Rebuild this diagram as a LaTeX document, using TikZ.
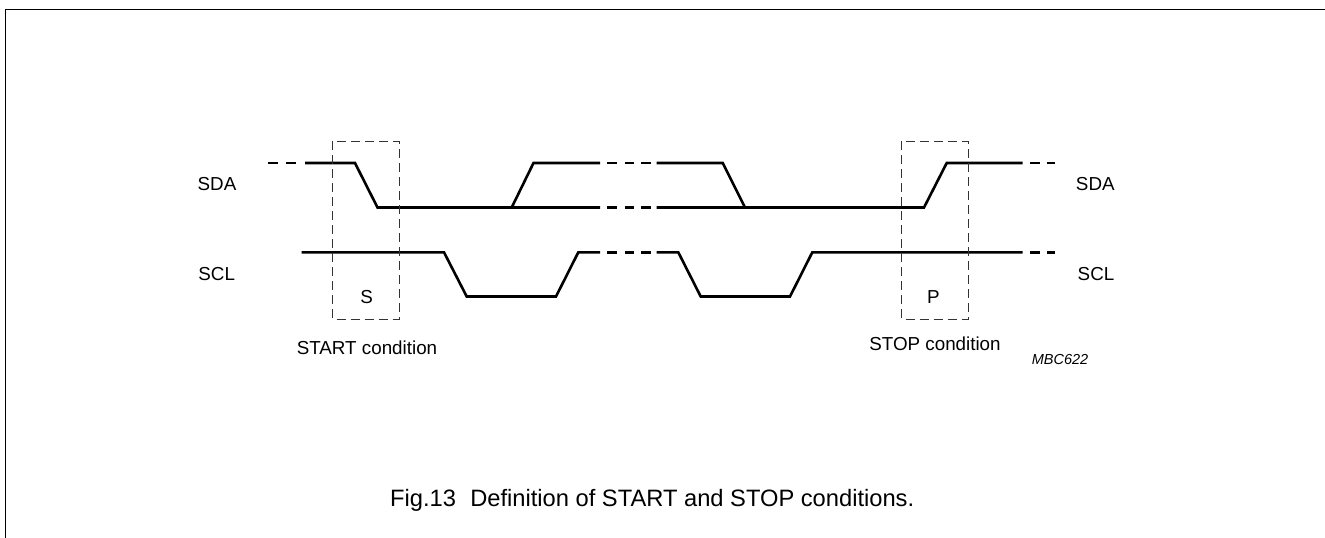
\documentclass[tikz,border=0pt]{standalone}
\usepackage{fontspec}
\setmainfont{Liberation Sans}
\begin{document}
\begin{tikzpicture}[x=1pt,y=-1pt,
  sig/.style={line width=2.6pt,line join=miter},
  condbox/.style={line width=0.9pt,dash pattern=on 9pt off 5pt,black!80},
  lbl/.style={inner sep=0pt,font=\fontsize{18.8}{22}\selectfont},
  captext/.style={inner sep=0pt,font=\fontsize{23.7}{28}\selectfont},
  tagtext/.style={inner sep=0pt,font=\fontsize{14.5}{17}\selectfont\itshape}]
\useasboundingbox (0,0) rectangle (1325,538);
% frame
\draw[line width=1.8pt] (5.5,538) -- (5.5,9.5) -- (1325,9.5);
% levels
\def\ha{163}\def\la{207.5}\def\hc{252.3}\def\lc{296.5}
% SDA
\draw[sig] (305,\ha) -- (355,\ha) -- (377.5,\la) -- (600,\la);
\draw[sig] (511.7,\la) -- (533.5,\ha) -- (600,\ha);
\draw[sig] (656.7,\ha) -- (722.7,\ha) -- (745,\la);
\draw[sig] (656.7,\la) -- (924,\la) -- (946.7,\ha) -- (1022.7,\ha);
% SCL
\draw[sig] (301.7,\hc) -- (444,\hc) -- (466.7,\lc) -- (556,\lc) -- (578.3,\hc) -- (600,\hc);
\draw[sig] (656.7,\hc) -- (678.3,\hc) -- (700.7,\lc) -- (790,\lc) -- (812.3,\hc) -- (1022.7,\hc);
% dashes
\foreach \y in {\ha}{
  \draw[sig] (268,\y) -- (278,\y);
  \draw[sig] (285.5,\y) -- (295.5,\y);
}
\foreach \y in {\ha,\hc}{
  \draw[sig] (1030,\y) -- (1040,\y);
  \draw[sig] (1047,\y) -- (1055,\y);
}
\foreach \y in {\ha,\la,\hc}{
  \draw[sig] (607,\y) -- (617,\y);
  \draw[sig] (624.5,\y) -- (634,\y);
  \draw[sig] (641,\y) -- (650.5,\y);
}
% boxes
\draw[condbox] (332.7,141) rectangle (399.3,319);
\draw[condbox] (901.7,141) rectangle (968.3,319);
% labels
\node[lbl] (sdal) at (217,184.5) {SDA};
\node[lbl] (scll) at (216.7,274) {SCL};
\node[lbl] (sdar) at (1095.3,184.5) {SDA};
\node[lbl] (sclr) at (1096,274) {SCL};
\node[lbl] (s) at (366.7,296.7) {S};
\node[lbl] (p) at (933.3,296.7) {P};
\node[lbl] (start) at (367,347.5) {START condition};
\node[lbl] (stop) at (935,343.3) {STOP condition};
\node[tagtext] (mbc) at (1060,359.3) {MBC622};
\node[captext,anchor=base west] (fig) at (390,506.7) {Fig.13\hspace{0.6em}Definition of START and STOP conditions.};
\end{tikzpicture}
\end{document}
